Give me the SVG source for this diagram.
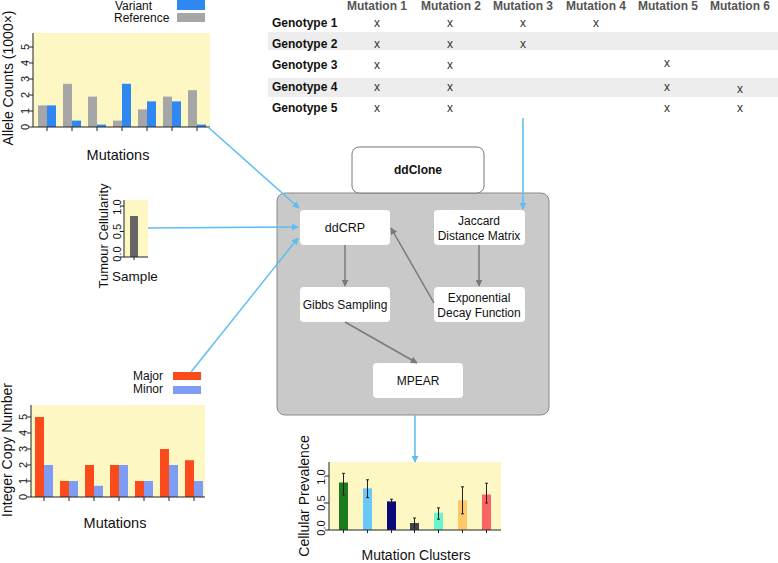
<svg xmlns="http://www.w3.org/2000/svg" width="778" height="563" viewBox="0 0 778 563">
<defs>
<marker id="ab" viewBox="0 0 10 10" refX="9" refY="5" markerWidth="7" markerHeight="7" markerUnits="userSpaceOnUse" orient="auto"><path d="M0,0 L10,5 L0,10 z" fill="#5dbdf0"/></marker>
<marker id="ag" viewBox="0 0 10 10" refX="9" refY="5" markerWidth="7" markerHeight="7" markerUnits="userSpaceOnUse" orient="auto"><path d="M0,0 L10,5 L0,10 z" fill="#7a7a7a"/></marker>
</defs>
<style>
text{font-family:"Liberation Sans",Arial,sans-serif;fill:#111}
.bg{fill:#fcf7c3}
.ax{stroke:#222;stroke-width:1;fill:none}
.dg{font-size:11px;text-anchor:middle;dominant-baseline:central}
.al{font-size:14px;text-anchor:middle}
.lg{font-size:12px}
.hd{font-size:12px;font-weight:bold;fill:#555;text-anchor:middle}
.rl{font-size:12px;font-weight:bold}
.xm{font-size:12px;fill:#333;text-anchor:middle}
.band{fill:#ededed}
.nb{fill:#fff;rx:4}
.nt{font-size:12px;text-anchor:middle}
.bc{stroke:#5dbdf0;stroke-width:1.5;fill:none;marker-end:url(#ab)}
.gc{stroke:#7a7a7a;stroke-width:1.5;fill:none;marker-end:url(#ag)}
.gr{fill:#a6a6a6}.bl{fill:#2f87f2}.rd{fill:#fb4a1c}.lv{fill:#7f9cf5}
.eb{stroke:#222;stroke-width:1}
</style>

<!-- Allele counts chart -->
<g id="allele-chart">
<text class="lg" x="115" y="10">Variant</text>
<rect class="bl" x="177" y="0" width="28" height="10"/>
<text class="lg" x="114" y="22">Reference</text>
<rect class="gr" x="177" y="13" width="28" height="9"/>
<rect class="bg" x="33" y="33" width="177" height="94"/>
<g>
<rect class="gr" x="38" y="105.4" width="9" height="21.6"/><rect class="bl" x="47" y="105.4" width="9" height="21.6"/>
<rect class="gr" x="63" y="83.8" width="9" height="43.2"/><rect class="bl" x="72" y="120.6" width="9" height="6.4"/>
<rect class="gr" x="88" y="96.6" width="9" height="30.4"/><rect class="bl" x="97" y="124.6" width="9" height="2.4"/>
<rect class="gr" x="113" y="120.6" width="9" height="6.4"/><rect class="bl" x="122" y="83.8" width="9" height="43.2"/>
<rect class="gr" x="138" y="109.4" width="9" height="17.6"/><rect class="bl" x="147" y="101.4" width="9" height="25.6"/>
<rect class="gr" x="163" y="96.6" width="9" height="30.4"/><rect class="bl" x="172" y="101.4" width="9" height="25.6"/>
<rect class="gr" x="188" y="90.2" width="9" height="36.8"/><rect class="bl" x="197" y="124.6" width="9" height="2.4"/>
</g>
<path class="ax" d="M33,33 V127 H210 M29,127 H33 M29,111 H33 M29,95 H33 M29,79 H33 M29,63 H33 M29,47 H33 M47,127 V131 M72,127 V131 M97,127 V131 M122,127 V131 M147,127 V131 M172,127 V131 M197,127 V131"/>
<text class="dg" transform="translate(25,127) rotate(-90)">0</text>
<text class="dg" transform="translate(25,111) rotate(-90)">1</text>
<text class="dg" transform="translate(25,95) rotate(-90)">2</text>
<text class="dg" transform="translate(25,79) rotate(-90)">3</text>
<text class="dg" transform="translate(25,63) rotate(-90)">4</text>
<text class="dg" transform="translate(25,47) rotate(-90)">5</text>
<text class="al" transform="translate(13,78) rotate(-90)">Allele Counts (1000×)</text>
<text class="al" x="118" y="160" style="font-size:14.5px">Mutations</text>
</g>

<!-- Tumour cellularity chart -->
<g id="cellularity-chart">
<rect class="bg" x="124" y="200" width="24" height="57"/>
<rect x="130" y="216" width="8" height="41" fill="#666"/>
<path class="ax" d="M124,200 V257 H148 M120,257 H124 M120,231.5 H124 M120,206 H124 M134,257 V260"/>
<text class="dg" transform="translate(117,254) rotate(-90)">0.0</text>
<text class="dg" transform="translate(117,231.5) rotate(-90)">0.5</text>
<text class="dg" transform="translate(117,207) rotate(-90)">1.0</text>
<text class="al" transform="translate(108,236) rotate(-90)" style="font-size:13px">Tumour Cellularity</text>
<text class="al" x="135" y="281" style="font-size:13.5px">Sample</text>
</g>

<!-- Copy number chart -->
<g id="copynumber-chart">
<text class="lg" x="133" y="380">Major</text>
<rect class="rd" x="173" y="372" width="28" height="8"/>
<text class="lg" x="133" y="393">Minor</text>
<rect class="lv" x="173" y="386" width="28" height="8"/>
<rect class="bg" x="31" y="405" width="174" height="92"/>
<g>
<rect class="rd" x="35" y="417" width="9" height="80"/><rect class="lv" x="44" y="465" width="9" height="32"/>
<rect class="rd" x="60" y="481" width="9" height="16"/><rect class="lv" x="69" y="481" width="9" height="16"/>
<rect class="rd" x="85" y="465" width="9" height="32"/><rect class="lv" x="94" y="485.8" width="9" height="11.2"/>
<rect class="rd" x="110" y="465" width="9" height="32"/><rect class="lv" x="119" y="465" width="9" height="32"/>
<rect class="rd" x="135" y="481" width="9" height="16"/><rect class="lv" x="144" y="481" width="9" height="16"/>
<rect class="rd" x="160" y="449" width="9" height="48"/><rect class="lv" x="169" y="465" width="9" height="32"/>
<rect class="rd" x="185" y="460.2" width="9" height="36.8"/><rect class="lv" x="194" y="481" width="9" height="16"/>
</g>
<path class="ax" d="M31,405 V497 H205 M27,497 H31 M27,481 H31 M27,465 H31 M27,449 H31 M27,433 H31 M27,417 H31 M44,497 V501 M69,497 V501 M94,497 V501 M119,497 V501 M144,497 V501 M169,497 V501 M194,497 V501"/>
<text class="dg" transform="translate(23,497) rotate(-90)">0</text>
<text class="dg" transform="translate(23,481) rotate(-90)">1</text>
<text class="dg" transform="translate(23,465) rotate(-90)">2</text>
<text class="dg" transform="translate(23,449) rotate(-90)">3</text>
<text class="dg" transform="translate(23,433) rotate(-90)">4</text>
<text class="dg" transform="translate(23,417) rotate(-90)">5</text>
<text class="al" transform="translate(12,450) rotate(-90)">Integer Copy Number</text>
<text class="al" x="115" y="528" style="font-size:14.5px">Mutations</text>
</g>

<!-- Genotype table -->
<g id="genotype-table">
<rect class="band" x="268" y="32" width="510" height="18"/>
<rect class="band" x="268" y="78" width="510" height="19"/>
<text class="hd" x="377" y="10">Mutation 1</text>
<text class="hd" x="451" y="10">Mutation 2</text>
<text class="hd" x="523" y="10">Mutation 3</text>
<text class="hd" x="596" y="10">Mutation 4</text>
<text class="hd" x="668" y="10">Mutation 5</text>
<text class="hd" x="740" y="10">Mutation 6</text>
<text class="rl" x="272" y="27">Genotype 1</text>
<text class="rl" x="272" y="48">Genotype 2</text>
<text class="rl" x="272" y="69">Genotype 3</text>
<text class="rl" x="272" y="91">Genotype 4</text>
<text class="rl" x="272" y="112">Genotype 5</text>
<text class="xm" x="377" y="27">x</text><text class="xm" x="450" y="27">x</text><text class="xm" x="523" y="27">x</text><text class="xm" x="596" y="27">x</text>
<text class="xm" x="377" y="48">x</text><text class="xm" x="450" y="48">x</text><text class="xm" x="523" y="48">x</text>
<text class="xm" x="377" y="69">x</text><text class="xm" x="450" y="69">x</text><text class="xm" x="667" y="67">x</text>
<text class="xm" x="377" y="91">x</text><text class="xm" x="450" y="91">x</text><text class="xm" x="667" y="91">x</text><text class="xm" x="740" y="93">x</text>
<text class="xm" x="377" y="112">x</text><text class="xm" x="450" y="112">x</text><text class="xm" x="667" y="112">x</text><text class="xm" x="740" y="112">x</text>
</g>

<!-- ddClone container -->
<g id="ddclone-panel">
<rect x="277" y="193" width="272" height="222" rx="8" fill="#c9c9c9" stroke="#8a8a8a" stroke-width="1"/>
</g>
<g id="ddclone-title">
<rect x="352" y="147" width="132" height="46" rx="7" fill="#fff" stroke="#777" stroke-width="1"/>
<text class="nt" x="418" y="174" style="font-weight:bold">ddClone</text>
</g>
<g id="ddcrp"><rect class="nb" x="300" y="210" width="90" height="35"/><text class="nt" x="345" y="232" style="font-size:12.5px">ddCRP</text></g>
<g id="jaccard"><rect class="nb" x="434" y="210" width="91" height="35"/><text class="nt" x="479" y="225">Jaccard</text><text class="nt" x="479" y="240">Distance Matrix</text></g>
<g id="gibbs"><rect class="nb" x="300" y="287" width="90" height="35"/><text class="nt" x="345" y="309">Gibbs Sampling</text></g>
<g id="exponential"><rect class="nb" x="434" y="287" width="91" height="35"/><text class="nt" x="479" y="302">Exponential</text><text class="nt" x="479" y="317">Decay Function</text></g>
<g id="mpear"><rect class="nb" x="373" y="363" width="90" height="35"/><text class="nt" x="418" y="385">MPEAR</text></g>

<!-- Cellular prevalence chart -->
<g id="prevalence-chart">
<rect class="bg" x="329" y="462" width="172" height="68"/>
<rect x="339" y="482.5" width="9" height="47.5" fill="#1d7a1d"/>
<rect x="363" y="488.4" width="9" height="41.6" fill="#69c8fa"/>
<rect x="387" y="501.4" width="9" height="28.6" fill="#0a0a7a"/>
<rect x="410" y="523" width="9" height="7" fill="#444"/>
<rect x="434" y="512.7" width="9" height="17.3" fill="#66f5cc"/>
<rect x="458" y="500.3" width="9" height="29.7" fill="#fdc76a"/>
<rect x="482" y="494.5" width="9" height="35.5" fill="#fa6464"/>
<path class="eb" d="M343.5,473.3 V494.9 M342,473.3 H345 M342,494.9 H345 M367.5,479.8 V497.6 M366,479.8 H369 M366,497.6 H369 M391.5,499.2 V503 M390,499.2 H393 M390,503 H393 M414.5,518 V528.4 M413,518 H416 M438.5,507.9 V519.2 M437,507.9 H440 M437,519.2 H440 M462.5,486.8 V513.8 M461,486.8 H464 M461,513.8 H464 M486.5,483.2 V503 M485,483.2 H488 M485,503 H488"/>
<path class="ax" d="M329,462 V530 H501 M325,530 H329 M325,503 H329 M325,476 H329 M343.5,530 V533 M367.5,530 V533 M391.5,530 V533 M414.5,530 V533 M438.5,530 V533 M462.5,530 V533 M486.5,530 V533"/>
<text class="dg" transform="translate(321,528) rotate(-90)">0.0</text>
<text class="dg" transform="translate(321,503) rotate(-90)">0.5</text>
<text class="dg" transform="translate(321,477) rotate(-90)">1.0</text>
<text class="al" transform="translate(309,496) rotate(-90)">Cellular Prevalence</text>
<text class="al" x="416" y="560">Mutation Clusters</text>
</g>

<!-- Connectors -->
<g id="connectors">
<path class="bc" d="M208,127 L299,208"/>
<path class="bc" d="M148,228 L298,227"/>
<path class="bc" d="M191,372 L298,238"/>
<path class="bc" d="M523,118 V209"/>
<path class="bc" d="M415,415 V462"/>
<path class="gc" d="M345,245 V286"/>
<path class="gc" d="M479,245 V286"/>
<path class="gc" d="M434,303 L391,228"/>
<path class="gc" d="M345,322 L417,363"/>
</g>
</svg>
